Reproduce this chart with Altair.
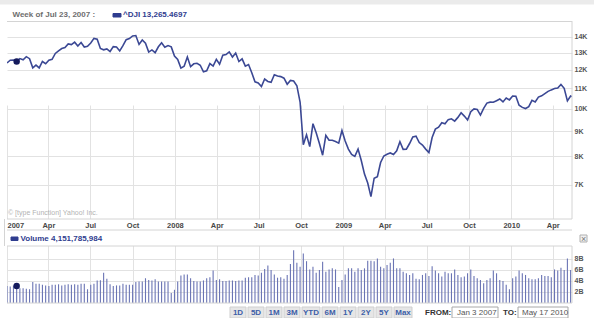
import altair as alt
import pandas as pd

# ---------------- data (weekly, weeks starting Monday 2007-01-01) ----------------
close_2007 = [12398, 12556, 12565, 12487, 12653, 12580, 12767, 12647, 12114, 12276,
              12110, 12481, 12354, 12560, 12612, 12961, 13120, 13264, 13326, 13556,
              13507, 13668, 13424, 13639, 13360, 13409, 13612, 13907, 13851, 13265,
              13182, 13240, 13079, 13379, 13358, 13114, 13443, 13821, 13896, 14066,
              14093, 13522, 13807, 13595, 13043, 13177, 13010, 13372, 13626, 13340,
              13451, 13366]
close_2008 = [12800, 12606, 12099, 12207, 12743, 12183, 12348, 12381, 12266, 11894,
              11951, 12361, 12216, 12610, 12325, 12849, 12891, 13058, 12745, 12986,
              12480, 12638, 12210, 12307, 11843, 11346, 11289, 11101, 11496, 11370,
              11326, 11734, 11659, 11628, 11543, 11220, 11421, 11388, 11143, 10325,
              8451, 8852, 8378, 9325, 8943, 8497, 8046, 8829, 8635, 8629,
              8579, 8515]
close_2009 = [9034, 8599, 8281, 8077, 8001, 8280, 7850, 7366, 7063, 6627,
              7224, 7279, 7776, 8018, 8083, 8131, 8076, 8212, 8575, 8268,
              8277, 8500, 8764, 8799, 8539, 8438, 8280, 8146, 8743, 9093,
              9172, 9370, 9321, 9506, 9544, 9441, 9606, 9820, 9665, 9488,
              9865, 9996, 9972, 9713, 10023, 10271, 10318, 10310, 10389, 10471,
              10329, 10520, 10428]
close_2010 = [10618, 10610, 10173, 10067, 10012, 10099, 10402, 10325, 10567, 10625,
              10742, 10851, 10927, 10997, 11019, 11204, 11009, 10380, 10620, 10560]

volume_b = [3.1, 3.0, 3.2, 3.1, 2.7, 2.7, 2.6, 2.5, 3.8, 3.5,
            3.5, 3.3, 3.2, 3.1, 3.3, 3.3, 3.4, 3.2, 3.3, 3.4,
            3.3, 3.4, 3.3, 3.5, 3.5, 2.5, 3.3, 3.5, 4.1, 4.15,
            5.5, 4.4, 3.4, 3.1, 3.2, 3.2, 3.5, 3.3, 3.3, 3.3,
            3.8, 3.9, 3.9, 4.5, 4.2, 4.1, 4.3, 3.9, 3.9, 3.9,
            3.9, 1.8, 2.4, 3.9, 5.0, 5.2, 5.2, 4.5, 4.0, 3.9,
            3.9, 4.1, 4.5, 4.7, 5.9, 4.2, 4.3, 4.0, 4.0, 4.1,
            4.1, 4.0, 4.1, 4.1, 4.6, 4.7, 4.7, 5.1, 5.0, 5.5,
            6.2, 6.8, 6.0, 5.2, 4.6, 4.7, 4.4, 5.1, 7.1, 9.6,
            7.3, 6.6, 9.0, 7.6, 6.1, 6.6, 5.5, 6.0, 7.5, 5.7,
            6.1, 6.3, 6.1, 2.9, 4.2, 5.2, 6.3, 6.3, 5.7, 6.3,
            6.0, 6.3, 7.7, 7.7, 7.6, 8.1, 6.6, 6.3, 6.9, 7.3,
            8.1, 6.3, 6.3, 5.7, 5.4, 5.1, 5.4, 4.4, 4.3, 5.1,
            5.4, 4.9, 6.7, 5.9, 5.4, 4.8, 5.7, 5.4, 5.4, 6.1,
            5.1, 4.7, 4.8, 5.4, 6.1, 4.9, 4.5, 4.2, 3.6, 4.2,
            4.5, 5.9, 5.4, 4.2, 4.0, 3.3, 2.5, 4.5, 4.8, 5.9,
            5.4, 5.1, 4.5, 4.3, 4.3, 4.5, 5.1, 4.9, 4.9, 4.7,
            6.1, 5.9, 6.4, 6.0, 8.1, 6.0, 4.2]

x_ticks = ["2007-01-01", "2007-04-01", "2007-07-01", "2007-10-01",
           "2008-01-01", "2008-04-01", "2008-07-01", "2008-10-01",
           "2009-01-01", "2009-04-01", "2009-07-01", "2009-10-01",
           "2010-01-01", "2010-04-01"]
price_ticks = [7000, 8000, 9000, 10000, 11000, 12000, 13000, 14000]
volume_ticks = [2, 4, 6, 8]
buttons = ["1D", "5D", "1M", "3M", "YTD", "6M", "1Y", "2Y", "5Y", "Max"]
hover_week = 3

closes = close_2007 + close_2008 + close_2009 + close_2010
n = min(len(closes), len(volume_b))
weeks = pd.date_range("2007-01-01", periods=n, freq="7D").strftime("%Y-%m-%d")
df = pd.DataFrame({"date": list(weeks), "close": closes[:n], "volume": volume_b[:n]})
dot_df = df.iloc[[hover_week]]


def utc(s):
    return int(pd.Timestamp(s, tz="UTC").value // 10**6)


W, H = 565, 282
MAIN_B = 198      # bottom of price panel
VOL_T = 225       # top of volume panel
FONT = "Liberation Sans"
BLUE = "#2f3d8f"
GRID = "#e2e2e2"

x_scale = alt.Scale(type="utc", domain=[utc("2007-01-01"), utc("2010-05-13")])
tick_vals = [utc(s) for s in x_ticks]
price_scale = alt.Scale(type="log", domain=[5968, 15089], range=[MAIN_B, 0], nice=False)
vol_scale = alt.Scale(type="linear", domain=[0, 10.36], range=[H, VOL_T], nice=False)

grid_axis = alt.Axis(orient="bottom", values=tick_vals, grid=True, gridColor=GRID,
                     labels=False, ticks=False, domain=False, title=None)
label_axis = alt.Axis(orient="bottom", values=tick_vals, grid=False, ticks=False,
                      domain=False, title=None,
                      offset=MAIN_B - H, labelPadding=2, labelFlush=True,
                      labelExpr="utcFormat(datum.value, '%m') == '01' ? utcFormat(datum.value, '%Y') : utcFormat(datum.value, '%b')",
                      labelFont=FONT, labelFontWeight="bold", labelFontSize=7.5,
                      labelColor="#484848", zindex=1)
price_axis = alt.Axis(orient="right", values=price_ticks, grid=True, gridColor=GRID,
                      ticks=False, domain=False, title=None, labelPadding=2,
                      labelExpr="(datum.value / 1000) + 'K'", labelFont=FONT,
                      labelFontWeight="bold", labelFontSize=7, labelColor="#555555")
vol_axis = alt.Axis(orient="right", values=volume_ticks, grid=True, gridColor=GRID,
                    ticks=False, domain=False, title=None, labelPadding=2,
                    labelExpr="datum.value + 'B'", labelFont=FONT,
                    labelFontWeight="bold", labelFontSize=7, labelColor="#555555")

price = alt.Chart(df).mark_line(color="#3b4894", strokeWidth=1.6, clip=True).encode(
    x=alt.X("date:T", scale=x_scale, axis=grid_axis),
    y=alt.Y("close:Q", scale=price_scale, axis=price_axis),
)
vol = alt.Chart(df).mark_rule(color="#6a74b4", strokeWidth=1.1, clip=True).encode(
    x=alt.X("date:T", scale=x_scale, axis=label_axis),
    y=alt.Y("volume:Q", scale=vol_scale, axis=vol_axis),
    y2=alt.datum(0),
)
price_dot = alt.Chart(dot_df).mark_circle(size=42, color="#141a5c", opacity=1).encode(
    x=alt.X("date:T", scale=x_scale, axis=None),
    y=alt.Y("close:Q", scale=price_scale, axis=None),
)
vol_dot = alt.Chart(dot_df).mark_circle(size=42, color="#141a5c", opacity=1).encode(
    x=alt.X("date:T", scale=x_scale, axis=None),
    y=alt.Y("volume:Q", scale=vol_scale, axis=None),
)

# ---------------- decorations (page chrome) ----------------
rects = [
    # x1, x2, y1, y2, fill, stroke
    (-1, W, MAIN_B + 0.5, VOL_T - 0.5, "white", "white"),      # gap between panels
    (-7, W + 22, -21, -17, "#ebebeb", "#ebebeb"),              # top band
    (106, 114, -7.5, -4, BLUE, BLUE),                          # header legend swatch
    (4, 11, 216, 219.5, BLUE, BLUE),                           # volume legend swatch
    (573, 580, 214, 221, "#f2f2f2", "#b0b0b0"),                # close box
    (445, 491, 286, 297, "white", "#a8a8a8"),                  # FROM input
    (511, 561, 286, 297, "white", "#a8a8a8"),                  # TO input
]
bx = 223
btn_rows = []
for lab in buttons:
    w = 12 + 2 * len(lab)
    rects.append((bx, bx + w, 286, 297, "#e6e6e6", "#cfcfcf"))
    btn_rows.append((lab, bx + w / 2))
    bx += w + 2
rect_df = pd.DataFrame(rects, columns=["x1", "x2", "y1", "y2", "fill", "stroke"])
rect_layer = alt.Chart(rect_df).mark_rect(strokeWidth=1).encode(
    x=alt.X("x1:Q", scale=None), x2="x2:Q",
    y=alt.Y("y1:Q", scale=None), y2="y2:Q",
    fill=alt.Fill("fill:N", scale=None), stroke=alt.Stroke("stroke:N", scale=None),
)

rules = [
    (0, W, 0.5, 0.5), (0, W, MAIN_B, MAIN_B), (0, W, 209, 209),
    (0, W, VOL_T, VOL_T), (0, W, H, H),
    (W, W, 0, MAIN_B), (W, W, VOL_T, H), (-2.5, -2.5, MAIN_B, VOL_T),
]
rule_df = pd.DataFrame(rules, columns=["x1", "x2", "y1", "y2"])
rule_layer = alt.Chart(rule_df).mark_rule(color="#d4d4d4", strokeWidth=1).encode(
    x=alt.X("x1:Q", scale=None), x2="x2:Q",
    y=alt.Y("y1:Q", scale=None), y2="y2:Q",
)

bold_left = pd.DataFrame([
    ("Week of Jul 23, 2007 :", 5.5, -6, "#6e6e6e"),
    ("^DJI 13,265.4697", 116, -6, BLUE),
    ("Volume 4,151,785,984", 13.5, 217.5, BLUE),
    ("FROM:", 418, 291.5, "#333333"),
    ("TO:", 496, 291.5, "#333333"),
], columns=["t", "x", "y", "c"])
normal_left = pd.DataFrame([
    ("\u00a9 [type Function] Yahoo! Inc.", 1, 191.5, "#b3b3b3", 7),
    ("Jan 3 2007", 450, 291.5, "#555555", 8),
    ("May 17 2010", 515, 291.5, "#555555", 8),
], columns=["t", "x", "y", "c", "s"])
btn_df = pd.DataFrame(btn_rows, columns=["t", "x"])

t_bold = alt.Chart(bold_left).mark_text(align="left", baseline="middle", font=FONT,
                                        fontWeight="bold", fontSize=8).encode(
    x=alt.X("x:Q", scale=None), y=alt.Y("y:Q", scale=None), text="t:N",
    color=alt.Color("c:N", scale=None),
)
t_norm = alt.Chart(normal_left).mark_text(align="left", baseline="middle", font=FONT).encode(
    x=alt.X("x:Q", scale=None), y=alt.Y("y:Q", scale=None), text="t:N",
    color=alt.Color("c:N", scale=None), size=alt.Size("s:Q", scale=None),
)
t_btn = alt.Chart(btn_df).mark_text(align="center", baseline="middle", font=FONT,
                                    fontWeight="bold", fontSize=8, color="#3d5ea8").encode(
    x=alt.X("x:Q", scale=None), y=alt.value(291.5), text="t:N",
)
t_close = alt.Chart(pd.DataFrame({"t": ["\u00d7"]})).mark_text(
    align="center", baseline="middle", font=FONT, fontSize=9, color="#777777").encode(
    x=alt.value(576.5), y=alt.value(217.5), text="t:N",
)

chart = alt.layer(
    price, vol, price_dot, vol_dot, rect_layer, rule_layer, t_bold, t_norm, t_btn, t_close
).resolve_scale(y="independent").resolve_axis(x="independent").properties(
    width=W, height=H,
    padding={"left": 7, "top": 21, "right": 22, "bottom": 15},
    autosize=alt.AutoSizeParams(type="none"),
    background="white",
).configure_view(strokeWidth=0)

chart.save("out.html", embed_options={"renderer": "svg", "actions": False})
